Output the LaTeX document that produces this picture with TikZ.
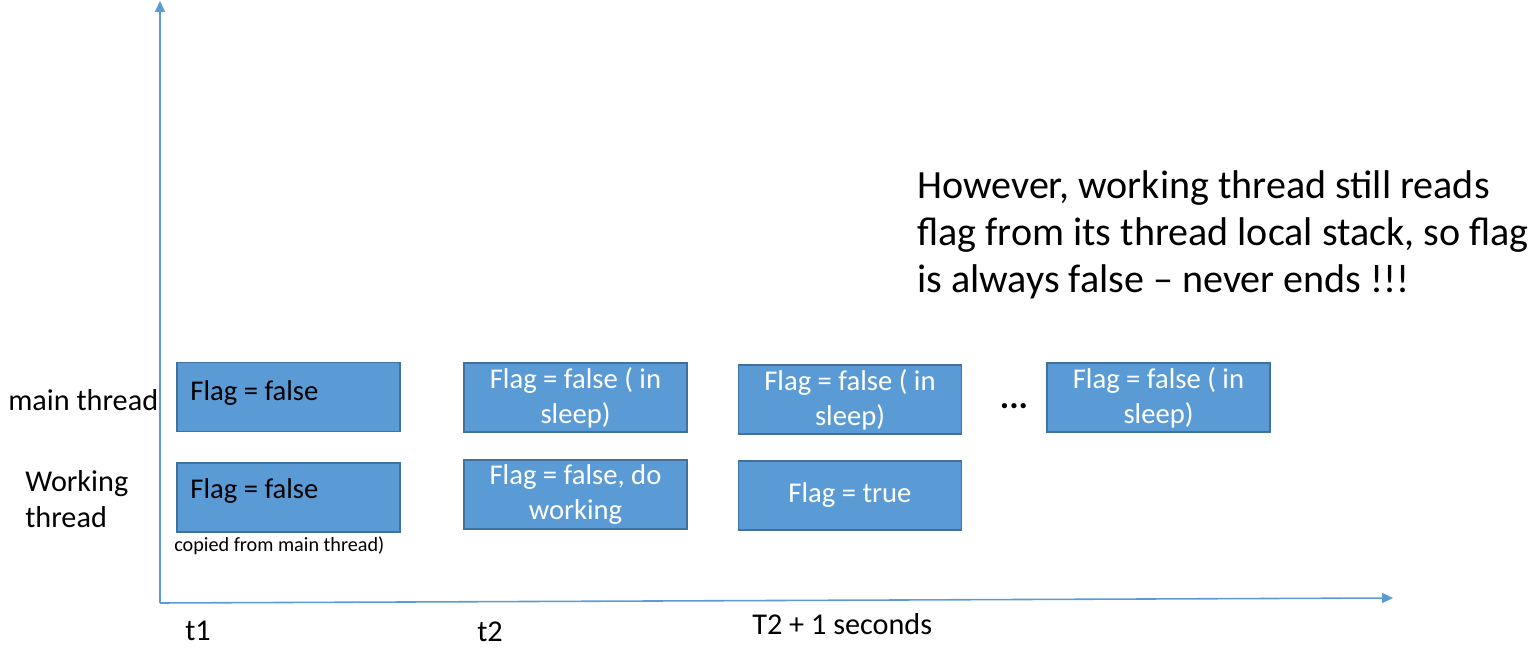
\documentclass[tikz,border=0pt]{standalone}
\usepackage{fontspec}
\setmainfont{Carlito}
\usetikzlibrary{arrows.meta}
\definecolor{boxfill}{HTML}{5B9BD5}
\definecolor{boxline}{HTML}{41719C}
\definecolor{axis}{HTML}{5B9BD5}
\begin{document}
\begin{tikzpicture}[x=0.02cm,y=-0.02cm,
  flagbox/.style={draw=boxline,line width=1.1pt,fill=boxfill,minimum width=4.46cm,minimum height=1.38cm,inner sep=0pt,font=\fontsize{16.3}{19.8}\selectfont,align=center,text=white},
  boxtext/.style={inner sep=0pt,anchor=west,font=\fontsize{16.3}{19.8}\selectfont,text=black},
  lbl/.style={font=\fontsize{17.2}{20.4}\selectfont,inner sep=0pt},
  axisline/.style={draw=axis,line width=0.9pt,-{Triangle[length=0.22cm,width=0.2cm]}}]
\useasboundingbox (0,0) rectangle (1529,651);
% axes
\coordinate (o) at (160,603);
\coordinate (ytop) at (160,1);
\coordinate (xend) at (1393,598);
\draw[axisline] (o) -- (ytop);
\draw[axisline] (o) -- (xend);
% boxes
\node[flagbox] (m1) at (288.5,397) {};
\node[boxtext] (m1t) at ([xshift=0.28cm,yshift=0.08cm]m1.west) {Flag = false};
\node[flagbox] (m2) at (575.5,397.5) {Flag = false ( in\\sleep)};
\node[flagbox] (m3) at (850,399.5) {Flag = false ( in\\sleep)};
\node[flagbox] (m4) at (1158.5,397.5) {Flag = false ( in\\sleep)};
\node[flagbox] (w1) at (288.5,497.5) {};
\node[boxtext] (w1t) at ([xshift=0.28cm,yshift=0.12cm]w1.west) {Flag = false};
\node[flagbox] (w2) at (575.5,494.5) {Flag = false, do\\working};
\node[flagbox] (w3) at (850,495.5) {Flag = true};
% labels
\node[lbl,anchor=west] (lm) at (8,400) {main thread};
\node[lbl,align=left,anchor=west] (lw) at (25,499) {Working\\thread};
\node[inner sep=0pt,anchor=west,font=\fontsize{11.5}{13}\selectfont] (cp) at (174,546) {copied from main thread)};
\node[lbl,anchor=west] (t1) at (185,631) {t1};
\node[lbl,anchor=west] (t2) at (477,632) {t2};
\node[lbl,anchor=west] (t3) at (752,624) {T2 + 1 seconds};
\node[inner sep=0pt,font=\bfseries\fontsize{20}{22}\selectfont] (dots) at (1014,406) {...};
\node[inner sep=0pt,anchor=north west,align=left,font=\fontsize{22.8}{26.8}\selectfont] (note) at (917,170) {However, working thread still reads\\flag from its thread local stack, so flag\\is always false -- never ends !!!};
\end{tikzpicture}
\end{document}
